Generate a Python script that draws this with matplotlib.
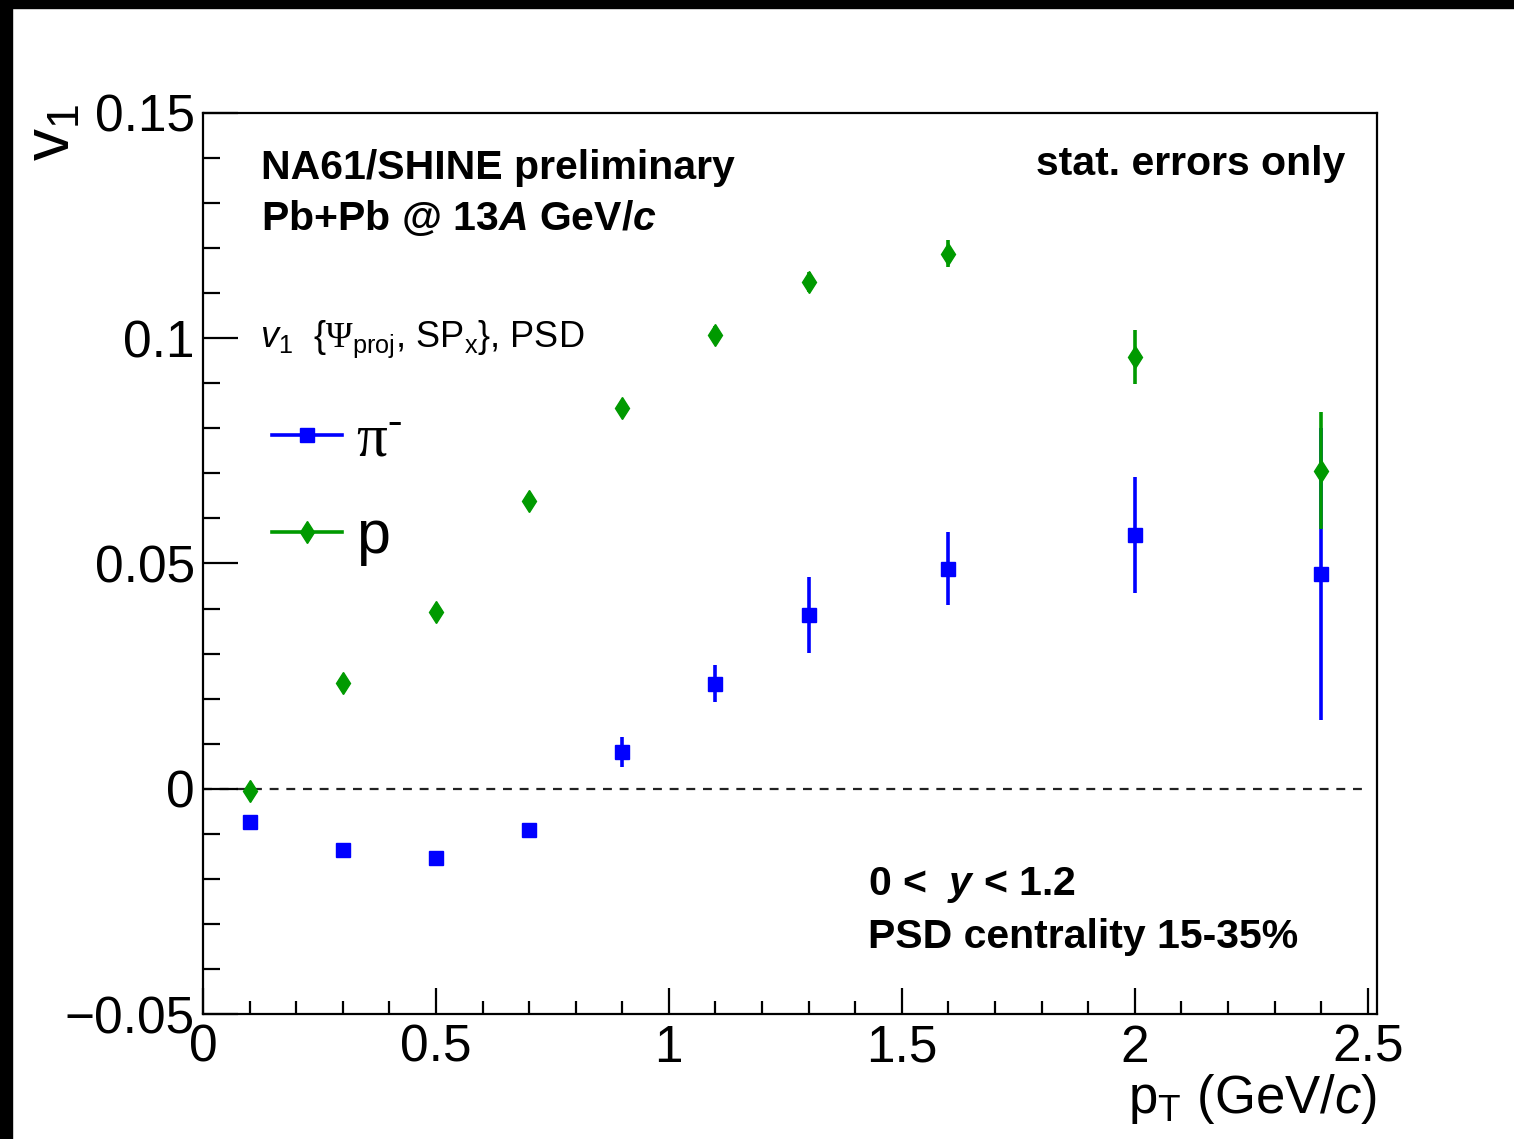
#!/usr/bin/env python
import matplotlib
matplotlib.use('Agg')
import matplotlib.pyplot as plt
from matplotlib.patches import Rectangle
from matplotlib.lines import Line2D
from matplotlib.ticker import MultipleLocator, FuncFormatter

plt.rcParams['font.family'] = ['Liberation Sans', 'DejaVu Sans']
plt.rcParams['mathtext.fontset'] = 'custom'
plt.rcParams['mathtext.rm'] = 'Liberation Serif'
plt.rcParams['mathtext.it'] = 'Liberation Sans:italic'
plt.rcParams['mathtext.bf'] = 'Liberation Sans:bold'
plt.rcParams['mathtext.bfit'] = 'Liberation Sans:bold:italic'

# v1 vs pT, Pb+Pb @ 13A GeV/c, 15-35% centrality
pt = [0.1, 0.3, 0.5, 0.7, 0.9, 1.1, 1.3, 1.6, 2.0, 2.4]
v1_pim = [-0.0073, -0.0135, -0.0154, -0.0092, 0.0082, 0.0233, 0.0386, 0.0488, 0.0564, 0.0476]
err_pim = [0.0012, 0.0012, 0.0013, 0.0014, 0.0033, 0.0041, 0.0084, 0.0081, 0.0129, 0.0324]
v1_p = [-0.0006, 0.0234, 0.0392, 0.0639, 0.0845, 0.1008, 0.1124, 0.1188, 0.0958, 0.0706]
err_p = [0.0010, 0.0012, 0.0014, 0.0016, 0.0018, 0.0020, 0.0022, 0.0030, 0.0060, 0.0130]

xlim = (0.0, 2.52)
ylim = (-0.05, 0.15)

W, H = 1514, 1139
fig = plt.figure(figsize=(W/100.0, H/100.0), dpi=100)
ax = fig.add_axes([203.0/W, 1 - 1014.0/H, 1174.0/W, 901.0/H])

# dark border strips along top and left edge
fig.patches.append(Rectangle((0, 1 - 8.0/H), 1, 8.0/H, transform=fig.transFigure,
                             color='black', zorder=0))
fig.patches.append(Rectangle((0, 0), 12.0/W, 1, transform=fig.transFigure,
                             color='black', zorder=0))

blue = '#0000ff'
green = '#009a00'

ax.plot([xlim[0], 2.5], [0, 0], color='#222222', lw=1.6, ls=(0, (4, 3.5)), zorder=1)

ax.errorbar(pt, v1_pim, yerr=err_pim, fmt='s', color=blue, ms=10.5,
            elinewidth=2.6, capsize=0, zorder=3)
ax.errorbar(pt, v1_p, yerr=err_p, fmt='d', color=green, ms=11.5,
            elinewidth=2.6, capsize=0, zorder=4)

ax.set_xlim(*xlim)
ax.set_ylim(*ylim)

for sp in ax.spines.values():
    sp.set_linewidth(1.6)

ax.xaxis.set_major_locator(MultipleLocator(0.5))
ax.xaxis.set_minor_locator(MultipleLocator(0.1))
ax.yaxis.set_major_locator(MultipleLocator(0.05))
ax.yaxis.set_minor_locator(MultipleLocator(0.01))

fmt = FuncFormatter(lambda v, pos: ('%g' % round(v, 3)).replace('-', '\u2212'))
ax.xaxis.set_major_formatter(fmt)
ax.yaxis.set_major_formatter(fmt)

ax.tick_params(which='both', direction='in', top=False, right=False, width=1.6,
               labelsize=37)
ax.tick_params(axis='x', which='major', length=19, pad=7)
ax.tick_params(axis='x', which='minor', length=9.5)
ax.tick_params(axis='y', which='major', length=25, pad=6)
ax.tick_params(axis='y', which='minor', length=12.5)

ax.set_xlabel(r'$\mathregular{p_T}$ (GeV/$c$)', fontsize=38)
ax.xaxis.set_label_coords(1.0, -0.11)
ax.xaxis.label.set(ha='right', va='baseline')

ax.set_ylabel(r'$\mathregular{v_1}$', fontsize=46)
ax.yaxis.set_label_coords(-0.128, 1.01)
ax.yaxis.label.set(ha='right', va='center')

# legend entries: horizontal line with the marker in the middle
h_pim = Line2D([], [], color=blue, marker='s', ms=10.5, lw=2.6)
h_p = Line2D([], [], color=green, marker='d', ms=11.5, lw=2.6)
leg = ax.legend([h_pim, h_p], [r'$\mathrm{\pi}^{\text{-}}$', 'p'], loc='upper left',
                bbox_to_anchor=(0.0588, 0.668), frameon=False, fontsize=44,
                handlelength=1.15, handletextpad=0.22, labelspacing=0.66,
                borderpad=0.0, borderaxespad=0.0)

tkw = dict(transform=ax.transAxes, va='baseline', fontsize=29.5, fontweight='bold')
ax.text(0.0494, 0.9267, 'NA61/SHINE preliminary', **tkw)
ax.text(0.0494, 0.870, r'Pb+Pb @ 13$\mathbfit{A}$ GeV/$\mathbfit{c}$', **tkw)
ax.text(0.9727, 0.9312, 'stat. errors only', ha='right', **tkw)
ax.text(0.5664, 0.132, r'0 <  $\mathbfit{y}$ < 1.2', **tkw)
ax.text(0.5664, 0.0733, 'PSD centrality 15-35%', **tkw)

ax.text(0.0486, 0.740,
        r'$v_{\mathregular{1}}$  {$\Psi_{\mathregular{proj}}$, SP$_{\mathregular{x}}$}, PSD',
        transform=ax.transAxes, va='baseline', fontsize=26)

fig.savefig('out.png', dpi=100)
